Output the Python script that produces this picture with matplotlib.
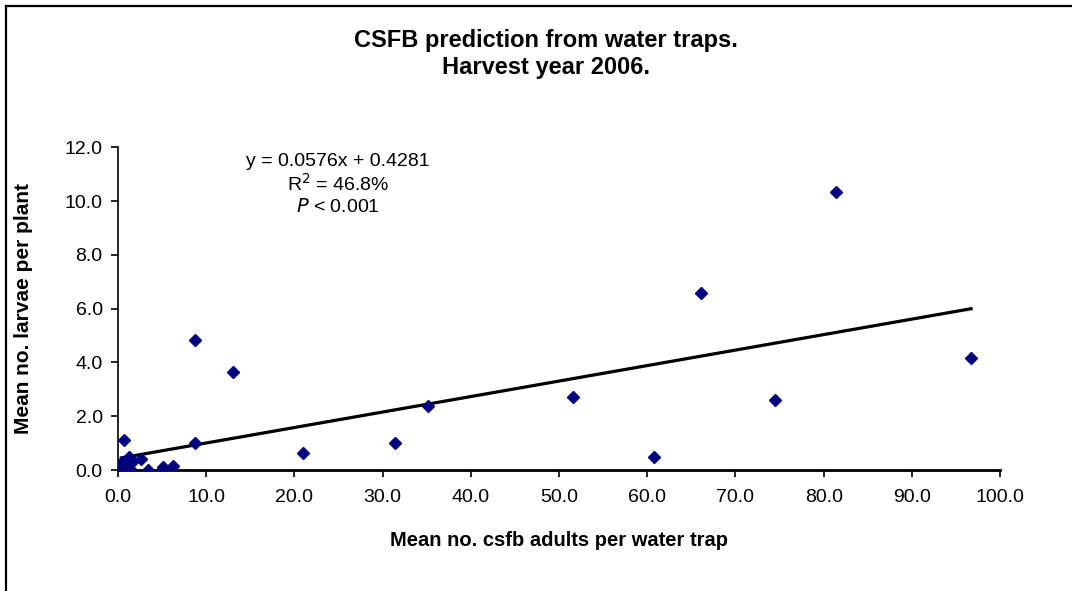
import matplotlib.pyplot as plt
from matplotlib.lines import Line2D

plt.rcParams['font.family'] = ['Liberation Sans', 'DejaVu Sans']

# mean adults per water trap (x) and mean larvae per plant (y)
adults = [96.7, 81.4, 66.1, 74.5, 51.6, 60.8, 35.2, 31.4, 21.0, 13.0, 8.7, 8.7,
          0.4, 0.5, 0.7, 0.8, 1.0, 1.2, 1.4, 1.6, 2.6, 3.4, 5.0, 5.1, 6.2]
larvae = [4.17, 10.33, 6.57, 2.6, 2.71, 0.49, 2.39, 0.99, 0.62, 3.63, 4.83, 0.99,
          0.1, 0.3, 1.1, 0.0, 0.2, 0.5, 0.05, 0.3, 0.4, 0.0, 0.0, 0.12, 0.15]

slope = 0.0576
intercept = 0.4281
x_ticks = [0, 10, 20, 30, 40, 50, 60, 70, 80, 90, 100]
y_ticks = [0, 2, 4, 6, 8, 10, 12]

fig = plt.figure(figsize=(10.72, 5.91), dpi=100)
ax = fig.add_axes([0.110, 0.2047, 0.823, 0.546])

ax.plot(adults, larvae, linestyle='none', marker='D', ms=6.2,
        color='#000080', zorder=3)

x0, x1 = min(adults), max(adults)
ax.plot([x0, x1], [slope * x0 + intercept, slope * x1 + intercept],
        color='black', lw=2.3, zorder=2)

ax.set_xlim(0, 100)
ax.set_ylim(0, 12)
ax.set_xticks(x_ticks)
ax.set_yticks(y_ticks)
ax.set_xticklabels([f'{v:.1f}' for v in x_ticks])
ax.set_yticklabels([f'{v:.1f}' for v in y_ticks])
ax.tick_params(labelsize=14, direction='out', length=5, width=1.2)
ax.tick_params(axis='x', pad=9)
ax.tick_params(axis='y', pad=6)

for side in ['top', 'right']:
    ax.spines[side].set_visible(False)
ax.spines['left'].set_linewidth(1.2)
ax.spines['bottom'].set_linewidth(2.0)

ax.set_xlabel('Mean no. csfb adults per water trap', fontsize=14.5,
              fontweight='bold', labelpad=18)
ax.set_ylabel('Mean no. larvae per plant', fontsize=15,
              fontweight='bold', labelpad=23)

fig.text(0.509, 1 - 54 / 591, 'CSFB prediction from water traps.\nHarvest year 2006.',
         ha='center', va='center', fontsize=17, fontweight='bold',
         linespacing=1.2)

# fitted equation
eq_x = 338 / 1072
fig.text(eq_x, 1 - 161.7 / 591, 'y = 0.0576x + 0.4281', ha='center',
         va='center', fontsize=14)
fig.text(eq_x, 1 - 184.3 / 591, 'R$^2$ = 46.8%', ha='center',
         va='center', fontsize=14)
fig.text(eq_x, 1 - 206.7 / 591, '$\\it{P}$ < 0.001', ha='center',
         va='center', fontsize=14)

# chart area border (top and left edges)
fig.add_artist(Line2D([6 / 1072, 1], [1 - 6 / 591, 1 - 6 / 591],
                      color='black', lw=1.6, transform=fig.transFigure))
fig.add_artist(Line2D([6 / 1072, 6 / 1072], [0, 1 - 6 / 591],
                      color='black', lw=1.6, transform=fig.transFigure))

fig.savefig('out.png', dpi=100)
